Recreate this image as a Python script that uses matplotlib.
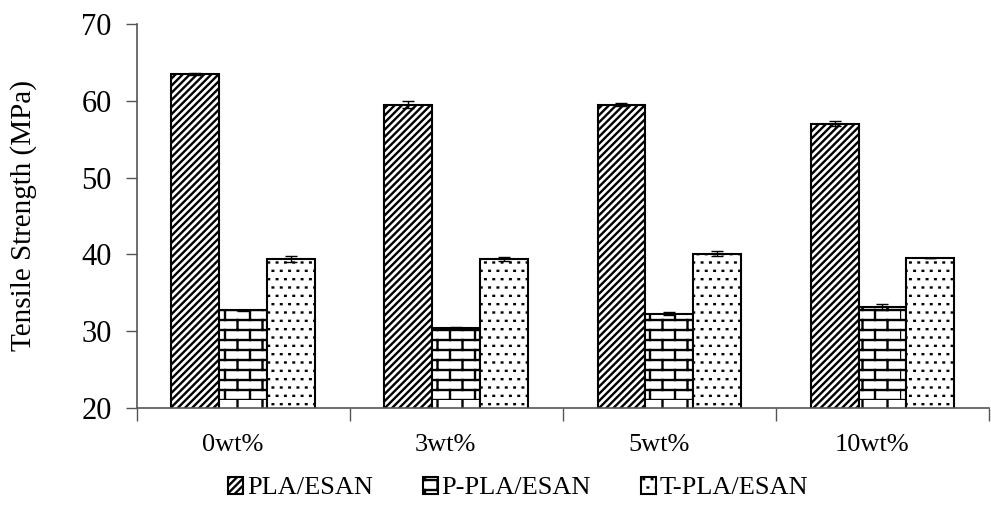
import numpy as np
import matplotlib
matplotlib.use("Agg")
import matplotlib.pyplot as plt
import matplotlib.hatch as mhatch
from matplotlib.path import Path

# ---- data -------------------------------------------------------------
categories = ["0wt%", "3wt%", "5wt%", "10wt%"]
series_names = ["PLA/ESAN", "P-PLA/ESAN", "T-PLA/ESAN"]
pla_esan = [63.5, 59.5, 59.5, 57.0]
p_pla_esan = [32.7, 30.4, 32.3, 33.1]
t_pla_esan = [39.4, 39.4, 40.1, 39.5]
pla_err = [0.1, 0.5, 0.15, 0.3]
p_pla_err = [0.1, 0.1, 0.15, 0.4]
t_pla_err = [0.4, 0.3, 0.35, 0.0]
y_ticks = [20, 30, 40, 50, 60, 70]


# ---- custom hatch patterns ---------------------------------------------
class DenseDiagonalHatch(mhatch.HatchPatternBase):
    """Tight '/' stripes, selected with the character 'd'."""

    def __init__(self, hatch, density):
        self.num_lines = int(hatch.count('d') * 28)
        self.num_vertices = (self.num_lines + 1) * 2 if self.num_lines else 0

    def set_vertices_and_codes(self, vertices, codes):
        steps = np.linspace(-0.5, 0.5, self.num_lines + 1)
        vertices[0::2, 0] = 0.0 + steps
        vertices[0::2, 1] = 0.0 - steps
        vertices[1::2, 0] = 1.0 + steps
        vertices[1::2, 1] = 1.0 - steps
        codes[0::2] = Path.MOVETO
        codes[1::2] = Path.LINETO


class BrickHatch(mhatch.HatchPatternBase):
    """Running-bond brick wall, selected with the character 'b'."""

    rows = 10
    bricks = 4

    def __init__(self, hatch, density):
        if hatch.count('b') > 0:
            self.num_vertices = 2 * self.rows + 2 * self.rows * self.bricks
        else:
            self.num_vertices = 0

    def set_vertices_and_codes(self, vertices, codes):
        segs = []
        h = 1.0 / self.rows
        w = 1.0 / self.bricks
        for k in range(self.rows):
            y = k * h
            segs.append(((0.0, y), (1.0, y)))
        for k in range(self.rows):
            y0, y1 = k * h, (k + 1) * h
            shift = 0.5 * w if k % 2 else 0.0
            for j in range(self.bricks):
                x = j * w + shift
                segs.append(((x, y0), (x, y1)))
        vertices[:] = np.array(segs).reshape(-1, 2)
        codes[0::2] = Path.MOVETO
        codes[1::2] = Path.LINETO


class SparseDotHatch(mhatch.HatchPatternBase):
    """Small staggered dots, selected with the character 'p'."""

    rows = 12
    cols = 12

    def __init__(self, hatch, density):
        if hatch.count('p') > 0:
            self.num_vertices = 2 * self.rows * self.cols
        else:
            self.num_vertices = 0

    def set_vertices_and_codes(self, vertices, codes):
        pts = []
        d = 0.003
        for r in range(self.rows):
            y = (r + 0.5) / self.rows
            shift = 0.5 / self.cols if r % 2 else 0.0
            for c in range(self.cols):
                x = (c + 0.25) / self.cols + shift
                pts.append(((x - d, y), (x + d, y)))
        vertices[:] = np.array(pts).reshape(-1, 2)
        codes[0::2] = Path.MOVETO
        codes[1::2] = Path.LINETO


mhatch._hatch_types.extend([DenseDiagonalHatch, BrickHatch, SparseDotHatch])

# ---- figure -----------------------------------------------------------
plt.rcParams['font.family'] = ['Liberation Serif', 'DejaVu Serif']
plt.rcParams['hatch.linewidth'] = 1.7
plt.rcParams['hatch.color'] = 'black'

fig = plt.figure(figsize=(9.91, 5.09), dpi=100)
ax = fig.add_axes([0.138, 0.1984, 0.860, 0.7546])

x = np.arange(len(categories)) + 0.5
width = 0.225
values = [pla_esan, p_pla_esan, t_pla_esan]
errors = [pla_err, p_pla_err, t_pla_err]
hatches = ['d', 'b', 'p']
offsets = [-width, 0.0, width]

for name, vals, errs, hatch, off in zip(series_names, values, errors, hatches, offsets):
    ax.bar(x + off, vals, width, label=name, color='white', edgecolor='black',
           linewidth=1.5, hatch=hatch, zorder=2,
           yerr=errs, capsize=4,
           error_kw=dict(ecolor='black', elinewidth=1.0, capthick=1.0, zorder=3))

ax.set_xlim(0, len(categories))
ax.set_ylim(20, 70)
ax.set_yticks(y_ticks)
ax.tick_params(axis='y', direction='out', length=8, width=1, color='#555555',
               labelsize=22, pad=10)

# major x ticks sit on group boundaries, labels go just left of group centres
ax.set_xticks(np.arange(len(categories) + 1))
ax.set_xticklabels([])
ax.set_xticks(x - 0.05, minor=True)
ax.set_xticklabels(categories, minor=True)
ax.tick_params(axis='x', which='major', direction='out', length=9, width=1,
               color='#555555')
ax.tick_params(axis='x', which='minor', length=0, labelsize=19, pad=19)

for side in ('top', 'right'):
    ax.spines[side].set_visible(False)
for side in ('left', 'bottom'):
    ax.spines[side].set_color('#555555')
    ax.spines[side].set_linewidth(1.2)

ax.set_ylabel("Tensile Strength (MPa)", fontsize=21, labelpad=32)

leg = fig.legend(loc='center', bbox_to_anchor=(0.523, 0.041), ncol=3,
                 frameon=False, fontsize=19, handlelength=0.55, handleheight=0.6,
                 handletextpad=0.15, columnspacing=1.9)

fig.savefig("out.png", dpi=100)
